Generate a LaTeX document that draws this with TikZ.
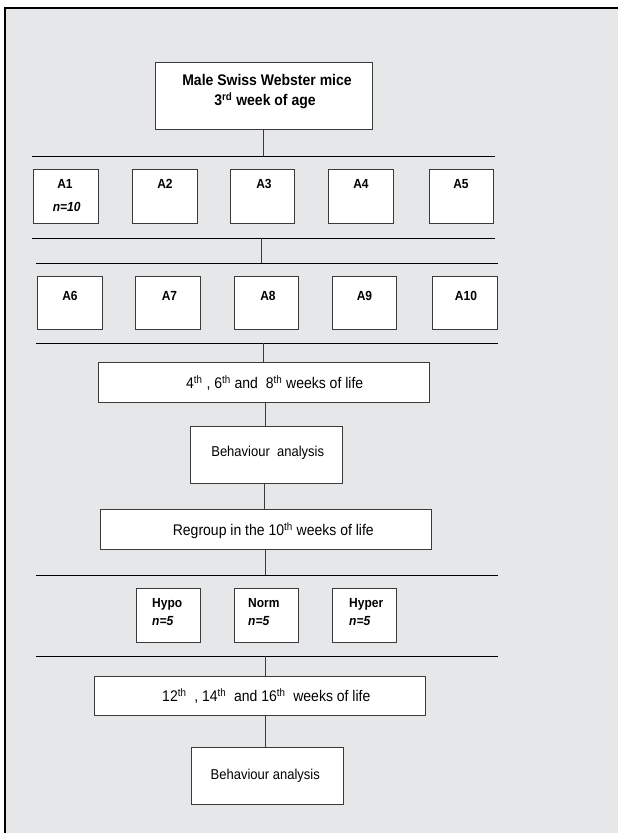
\documentclass[tikz,border=0pt]{standalone}
\usepackage{graphicx}
\usepackage{fontspec}
\setmainfont{Liberation Sans}
\definecolor{panel}{HTML}{E6E7E9}
\definecolor{edge}{HTML}{3A3A3A}
\newcommand{\tallt}[1]{\scalebox{1}[1.1]{#1}}
\tikzset{
  box/.style={draw=edge, fill=white, line width=1pt, inner sep=0pt, rectangle},
  hline/.style={draw=black, line width=1pt},
  conn/.style={draw=edge, line width=1pt},
  lbl/.style={inner sep=0pt, text height=0.79em, text depth=0pt, font=\fontsize{12}{14}\selectfont\bfseries},
  nlbl/.style={lbl, font=\fontsize{12}{14}\selectfont\bfseries\itshape},
  big/.style={inner sep=0pt, text height=0.79em, text depth=0pt, font=\fontsize{14}{16}\selectfont\bfseries},
  txt/.style={inner sep=0pt, text height=0.79em, text depth=0pt, font=\fontsize{14}{16}\selectfont},
  txts/.style={inner sep=0pt, text height=0.79em, text depth=0pt, font=\fontsize{13}{15}\selectfont},
}
\begin{document}
\begin{tikzpicture}[x=1pt, y=-1pt]
\useasboundingbox (0,0) rectangle (618,833);
\fill[white] (0,0) rectangle (618,833);
\clip (0,0) rectangle (618,833);
\draw[fill=panel, line width=2.5pt] (5.2,7.8) rectangle (640,860);

% boxes
\node[box, minimum width=217pt, minimum height=67pt] (top) at (263.5,95.5) {};
\node[box, minimum width=65pt, minimum height=54pt] (A1) at (65.5,196) {};
\node[box, minimum width=65pt, minimum height=54pt] (A2) at (164.5,196) {};
\node[box, minimum width=64pt, minimum height=54pt] (A3) at (262,196) {};
\node[box, minimum width=65pt, minimum height=54pt] (A4) at (360.5,196) {};
\node[box, minimum width=64pt, minimum height=54pt] (A5) at (461,196) {};
\node[box, minimum width=65pt, minimum height=53pt] (A6) at (69.5,302.5) {};
\node[box, minimum width=65pt, minimum height=53pt] (A7) at (167.5,302.5) {};
\node[box, minimum width=64pt, minimum height=53pt] (A8) at (266,302.5) {};
\node[box, minimum width=64pt, minimum height=53pt] (A9) at (364,302.5) {};
\node[box, minimum width=65pt, minimum height=53pt] (A10) at (464.5,302.5) {};
\node[box, minimum width=331pt, minimum height=40pt] (w1) at (263.5,382) {};
\node[box, minimum width=152pt, minimum height=57pt] (ba1) at (266,454.5) {};
\node[box, minimum width=331pt, minimum height=40pt] (rg) at (265.5,529) {};
\node[box, minimum width=64pt, minimum height=54pt] (hypo) at (168,615) {};
\node[box, minimum width=64pt, minimum height=54pt] (norm) at (266,615) {};
\node[box, minimum width=64pt, minimum height=54pt] (hyper) at (364,615) {};
\node[box, minimum width=331pt, minimum height=39pt] (w2) at (259.5,695.5) {};
\node[box, minimum width=152pt, minimum height=57pt] (ba2) at (267,775.5) {};

% texts
\node[big] (t1) at (267,82) {\tallt{Male Swiss Webster mice}};
\node[big] (t2) at (265,102) {\tallt{3\textsuperscript{rd} week of age}};
\node[lbl] (l1) at (65,185) {\tallt{A1}};
\node[nlbl] (n1) at (66.7,208) {\tallt{n=10}};
\node[lbl] (l2) at (165,185) {\tallt{A2}};
\node[lbl] (l3) at (264,185) {\tallt{A3}};
\node[lbl] (l4) at (361,185) {\tallt{A4}};
\node[lbl] (l5) at (461,185) {\tallt{A5}};
\node[lbl] (l6) at (70,297) {\tallt{A6}};
\node[lbl] (l7) at (169.5,297) {\tallt{A7}};
\node[lbl] (l8) at (268,297) {\tallt{A8}};
\node[lbl] (l9) at (364.5,297) {\tallt{A9}};
\node[lbl] (l10) at (466,297) {\tallt{A10}};
\node[txt] (tw1) at (274.7,385) {\tallt{4\textsuperscript{th} , 6\textsuperscript{th} and\ \ 8\textsuperscript{th} weeks of life}};
\node[txts] (tba1) at (267.7,453) {\tallt{Behaviour\ \ analysis}};
\node[txt] (trg) at (273.3,532) {\tallt{Regroup in the 10\textsuperscript{th} weeks of life}};
\node[lbl, anchor=west] (lhypo) at (152,604) {\tallt{Hypo}};
\node[nlbl, anchor=west] (nhypo) at (152,622) {\tallt{n=5}};
\node[lbl, anchor=west] (lnorm) at (248,604) {\tallt{Norm}};
\node[nlbl, anchor=west] (nnorm) at (248,622) {\tallt{n=5}};
\node[lbl, anchor=west] (lhyper) at (349,604) {\tallt{Hyper}};
\node[nlbl, anchor=west] (nhyper) at (349,622) {\tallt{n=5}};
\node[txt] (tw2) at (266.3,698) {\tallt{12\textsuperscript{th}\ \ , 14\textsuperscript{th}\ \ and 16\textsuperscript{th}\ \ weeks of life}};
\node[txts] (tba2) at (265.3,776) {\tallt{Behaviour analysis}};

% horizontal lines
\coordinate (h1l) at (32,156);  \coordinate (h1r) at (495,156);
\coordinate (h2l) at (32,238);  \coordinate (h2r) at (495,238);
\coordinate (h3l) at (36,263);  \coordinate (h3r) at (498,263);
\coordinate (h4l) at (36,343);  \coordinate (h4r) at (498,343);
\coordinate (h5l) at (36,575);  \coordinate (h5r) at (498,575);
\coordinate (h6l) at (36,656);  \coordinate (h6r) at (498,656);
\draw[hline] (h1l) -- (h1r);
\draw[hline] (h2l) -- (h2r);
\draw[hline] (h3l) -- (h3r);
\draw[hline] (h4l) -- (h4r);
\draw[hline] (h5l) -- (h5r);
\draw[hline] (h6l) -- (h6r);

% vertical connectors
\coordinate (x263) at (263,0);
\coordinate (x261) at (261,0);
\coordinate (x265) at (265,0);
\coordinate (x264) at (264,0);
\draw[conn] (top.south -| x263) -- (h1l -| x263);
\draw[conn] (h2l -| x261) -- (h3l -| x261);
\draw[conn] (h4l -| x263) -- (w1.north -| x263);
\draw[conn] (w1.south -| x265) -- (ba1.north -| x265);
\draw[conn] (ba1.south -| x264) -- (rg.north -| x264);
\draw[conn] (rg.south -| x265) -- (h5l -| x265);
\draw[conn] (h6l -| x265) -- (w2.north -| x265);
\draw[conn] (w2.south -| x265) -- (ba2.north -| x265);
\end{tikzpicture}
\end{document}
